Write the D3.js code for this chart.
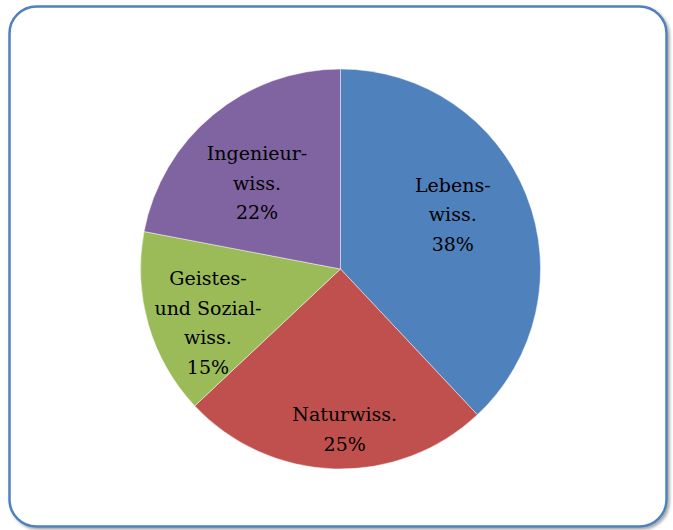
<!DOCTYPE html>
<html>
<head>
<meta charset="utf-8">
<script src="https://cdn.jsdelivr.net/npm/d3@7/dist/d3.min.js"></script>
<style>
  body { margin: 0; background: #fff; }
  text { font-family: "DejaVu Serif", "Liberation Serif", serif; }
</style>
</head>
<body>
<div id="chart"></div>
<script>
// Fachgebiete, Anteile in Prozent
var categories = ["Lebens-|wiss.", "Naturwiss.", "Geistes-|und Sozial-|wiss.", "Ingenieur-|wiss."];
var values = [38, 25, 15, 22];
var colors = ["#4F81BD", "#C0504D", "#9BBB59", "#8064A2"];

var width = 673, height = 530;
var cx = 340.5, cy = 269, radius = 200;

// where each label sits (fraction of radius, angle tweak in degrees)
var labelPos = [[0.625, -4.5], [0.8, -3.3], [0.715, -5.8], [0.6, -4.5]];

var svg = d3.select("#chart")
  .append("svg")
    .attr("width", width)
    .attr("height", height);

var defs = svg.append("defs");
var f = defs.append("filter").attr("id", "shadow").attr("x", "-5%").attr("y", "-5%").attr("width", "110%").attr("height", "110%");
f.append("feDropShadow").attr("dx", 2).attr("dy", 2).attr("stdDeviation", 1.5).attr("flood-color", "#000").attr("flood-opacity", 0.35);

// frame
svg.append("rect")
    .attr("x", 9.5)
    .attr("y", 6.5)
    .attr("width", 657)
    .attr("height", 520)
    .attr("rx", 27)
    .attr("ry", 27)
    .attr("fill", "#fff")
    .attr("stroke", "#4F81BD")
    .attr("stroke-width", 2.5)
    .attr("filter", "url(#shadow)");

var pie = d3.pie().sort(null).value(function(d) { return d; });
var arcs = pie(values);

var arc = d3.arc().innerRadius(0).outerRadius(radius);

var g = svg.append("g").attr("transform", "translate(" + cx + "," + cy + ")");

g.selectAll(".slice")
  .data(arcs)
  .enter().append("path")
    .attr("class", "slice")
    .attr("d", arc)
    .attr("fill", function(d, i) { return colors[i]; })
    .attr("stroke", "rgba(255,255,255,0.45)")
    .attr("stroke-width", 1);

var lineH = 29.5;

var lbl = g.selectAll(".lbl")
  .data(arcs)
  .enter().append("text")
    .attr("class", "lbl")
    .attr("text-anchor", "middle")
    .attr("font-size", 19)
    .attr("fill", "#000")
    .attr("transform", function(d, i) {
      var a = (d.startAngle + d.endAngle) / 2 + labelPos[i][1] * Math.PI / 180;
      var r = radius * labelPos[i][0];
      return "translate(" + (r * Math.sin(a)) + "," + (-r * Math.cos(a)) + ")";
    });

lbl.each(function(d, i) {
  var lines = categories[i].split("|").concat([values[i] + "%"]);
  var t = d3.select(this);
  var y0 = -(lines.length - 1) * lineH / 2 + 7;
  lines.forEach(function(s, k) {
    t.append("tspan")
      .attr("x", 0)
      .attr("y", y0 + k * lineH)
      .text(s);
  });
});
</script>
</body>
</html>
